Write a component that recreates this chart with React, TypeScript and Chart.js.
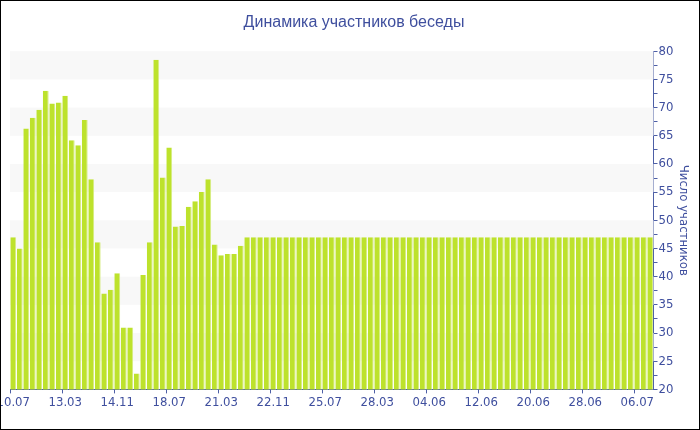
import React, { useEffect, useRef } from "react";
import { Chart, registerables } from "chart.js";

Chart.register(...registerables);

const tickLabels: string[] = ["10.07", "13.03", "14.11", "18.07", "21.03", "22.11", "25.07", "28.03", "04.06", "12.06", "20.06", "28.06", "06.07"];
const TICK_EVERY = 8;

const participants: number[] = [
  47, 45, 66.3, 68.2, 69.6, 73, 70.7, 70.9, 72.1, 64.2,
  63.3, 67.8, 57.3, 46.1, 37, 37.7, 40.6, 31, 31, 22.8,
  40.3, 46.1, 78.5, 57.6, 62.9, 48.9, 49, 52.4, 53.4, 55,
  57.3, 45.7, 43.8, 44, 44, 45.5, 47, 47, 47, 47,
  47, 47, 47, 47, 47, 47, 47, 47, 47, 47,
  47, 47, 47, 47, 47, 47, 47, 47, 47, 47,
  47, 47, 47, 47, 47, 47, 47, 47, 47, 47,
  47, 47, 47, 47, 47, 47, 47, 47, 47, 47,
  47, 47, 47, 47, 47, 47, 47, 47, 47, 47,
  47, 47, 47, 47, 47, 47, 47, 47, 47,
];

const categories: string[] = participants.map((_, i) =>
  i % TICK_EVERY === 0 ? tickLabels[i / TICK_EVERY] ?? "" : ""
);

const bandStarts: number[] = [25, 35, 45, 55, 65, 75];
const BAND_SIZE = 5;

const TEXT = "#3f4f9e";
const AXIS = "#4d5fa6";
const TICK_FONT = "'DejaVu Sans Condensed', 'DejaVu Sans', Verdana, sans-serif";

const bandsPlugin = {
  id: "bands",
  beforeDatasetsDraw(chart: any) {
    const { ctx, chartArea, scales } = chart;
    const y = scales.y;
    ctx.save();
    ctx.fillStyle = "#f8f8f8";
    for (const v of bandStarts) {
      const top = y.getPixelForValue(v + BAND_SIZE);
      const bottom = y.getPixelForValue(v);
      ctx.fillRect(chartArea.left, top, chartArea.right - chartArea.left, bottom - top);
    }
    ctx.restore();
  },
};

export default function App() {
  const ref = useRef<HTMLCanvasElement | null>(null);

  useEffect(() => {
    document.body.style.margin = "0";
    const canvas = ref.current;
    if (!canvas) return;
    const chart = new Chart(canvas, {
      type: "bar",
      data: {
        labels: categories,
        datasets: [
          {
            data: participants,
            backgroundColor: "#bde22c",
            borderColor: "#d6ec80",
            borderWidth: { top: 0, right: 1, bottom: 0, left: 0 },
            borderSkipped: false,
            barPercentage: 0.9,
            categoryPercentage: 1,
          },
        ],
      },
      plugins: [bandsPlugin],
      options: {
        animation: false,
        responsive: true,
        maintainAspectRatio: false,
        layout: { padding: { left: 9, right: 1, top: 0, bottom: 18 } },
        plugins: {
          legend: { display: false },
          tooltip: { enabled: false },
          title: {
            display: true,
            text: "Динамика участников беседы",
            color: TEXT,
            font: { family: "'Liberation Sans', Arial, sans-serif", size: 16, weight: "normal" },
            padding: { top: 12, bottom: 19 },
          },
        },
        scales: {
          x: {
            type: "category",
            offset: true,
            grid: {
              display: true,
              drawOnChartArea: false,
              drawTicks: true,
              tickLength: 4,
              tickColor: (ctx: any) => (ctx.index % TICK_EVERY === 0 ? AXIS : "rgba(0,0,0,0)"),
            },
            border: { display: true, color: AXIS, width: 1 },
            ticks: {
              autoSkip: false,
              maxRotation: 0,
              minRotation: 0,
              padding: 1,
              color: TEXT,
              font: { family: TICK_FONT, size: 13 },
              callback: (_v: any, i: number) => categories[i],
            },
            afterFit: (scale: any) => {
              scale.paddingLeft = 0;
              scale.paddingRight = 0;
            },
          },
          y: {
            position: "right",
            min: 20,
            max: 80,
            grid: {
              display: true,
              drawOnChartArea: false,
              drawTicks: true,
              tickLength: 4,
              tickColor: AXIS,
            },
            border: { display: true, color: AXIS, width: 1 },
            ticks: {
              stepSize: 2.5,
              autoSkip: false,
              padding: 1,
              color: TEXT,
              font: { family: TICK_FONT, size: 13 },
              callback: (v: any) => (Number(v) % 5 === 0 ? String(v) : ""),
            },
            title: {
              display: true,
              text: "Число участников",
              color: TEXT,
              font: { family: TICK_FONT, size: 13 },
              padding: { top: 7, bottom: 1 },
            },
          },
        },
      },
    });
    return () => chart.destroy();
  }, []);

  return (
    <div
      style={{
        width: 700,
        height: 430,
        boxSizing: "border-box",
        border: "1px solid #000",
        background: "#fff",
        position: "relative",
      }}
    >
      <div style={{ position: "relative", width: 698, height: 428 }}>
        <canvas ref={ref} />
      </div>
    </div>
  );
}
